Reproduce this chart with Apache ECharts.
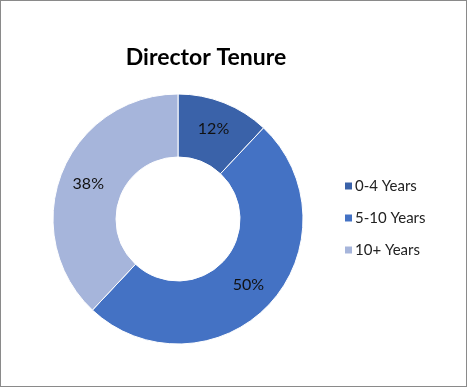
<!DOCTYPE html>
<html><head><meta charset="utf-8">
<script src="https://cdn.jsdelivr.net/npm/echarts@6/dist/echarts.min.js"></script>
<style>html,body{margin:0;padding:0;background:#fff}#c{width:467px;height:387px;border:1px solid #8a8a8a;box-sizing:border-box;}</style>
</head><body><div id="c"></div>
<script>
const categories = ['0-4 Years', '5-10 Years', '10+ Years'];
const values = [12, 50, 38];
const colors = ['#3A62A9', '#4472C4', '#A6B5DB'];
const chart = echarts.init(document.getElementById('c'), null, {renderer: 'canvas'});
chart.setOption({
  animation: false,
  backgroundColor: '#fff',
  title: {
    text: 'Director Tenure', left: 200, top: 40, textAlign: 'center',
    textStyle: {fontFamily: 'Lato', fontWeight: 'bold', fontSize: 23, color: '#000'}
  },
  legend: {
    orient: 'vertical', left: 337, top: 171, itemWidth: 9, itemHeight: 9, itemGap: 14,
    icon: 'rect',
    textStyle: {fontFamily: 'Lato', fontSize: 15, color: '#222', lineHeight: 18, padding: [0,0,0,-3]},
    data: categories
  },
  series: [{
    type: 'pie', center: [177, 218], radius: [62, 125], startAngle: 90, clockwise: true,
    avoidLabelOverlap: false,
    itemStyle: {borderColor: '#fff', borderWidth: 1},
    label: {position: 'inside', formatter: '{d}%', fontFamily: 'Lato', fontSize: 16, color: '#111'},
    labelLine: {show: false},
    emphasis: {disabled: true},
    data: categories.map((n, i) => ({name: n, value: values[i], itemStyle: {color: colors[i]}}))
  }]
});
</script></body></html>
